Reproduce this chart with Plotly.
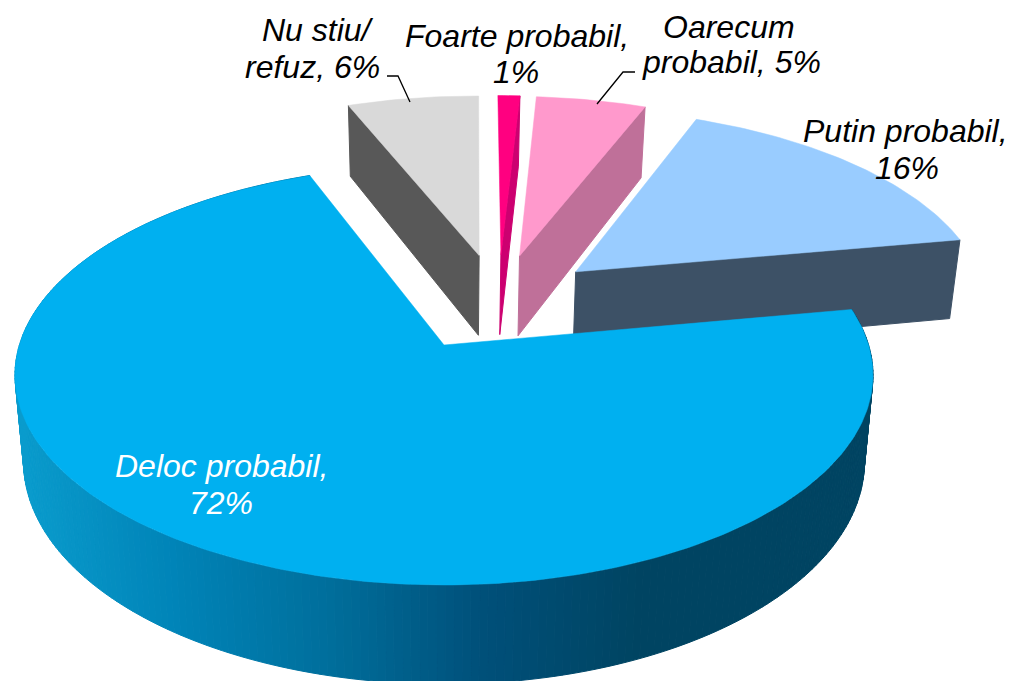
import math
import plotly.graph_objects as go

# ---- data ----
categories = ["Foarte probabil", "Oarecum probabil", "Putin probabil", "Deloc probabil", "Nu stiu/ refuz"]
values = [1, 5, 16, 72, 6]
label_lines = [["Foarte probabil,", "1%"], ["Oarecum", "probabil, 5%"], ["Putin probabil,", "16%"],
               ["Deloc probabil,", "72%"], ["Nu stiu/", "refuz, 6%"]]

# ---- styles ----
top_colors = ["#FF0080", "#FF99CC", "#99CCFF", "#00B0F0", "#D9D9D9"]
side_colors = ["#CC0070", "#BF7099", "#3D5166", None, "#585858"]
gradient = [(15, (10, 156, 205)), (170, (0, 132, 184)), (330, (0, 110, 155)), (480, (0, 80, 122)), (640, (0, 68, 98)), (900, (0, 68, 98))]
label_pos = [[(517, 36), (516, 72)], [(729, 27), (731, 62)], [(905, 131), (907, 168)],
             [(221, 466), (221, 503)], [(318, 30), (312, 67)]]
label_color = ["black", "black", "black", "white", "black"]
FONT_SIZE = 32

# ---- projection of the tilted pie ----
CX, CY, AX, BY, K = 444.0, 345.0, 424.6, 205.7, 1 / 7
H, SHRINK = 85.0, 0.98
START, EXPLODE = 0.6, 0.25
PIE_U, PIE_V = 0.1325, 0.2175
TOTAL = sum(values)


def top(u, v):
    w = 1 + K * v
    return CX + AX * u / w, CY - BY * v / w


def bottom(u, v):
    x, y = top(u, v)
    return CX + (x - CX) * SHRINK, y + H / (1 + K * v)


def poly(fig, pts, color, width=1.0):
    xs = [p[0] for p in pts] + [pts[0][0]]
    ys = [p[1] for p in pts] + [pts[0][1]]
    fig.add_trace(go.Scatter(x=xs, y=ys, mode="lines", fill="toself", fillcolor=color,
                             line=dict(color=color, width=width), hoverinfo="skip", showlegend=False))


def grad_color(x):
    for (x0, c0), (x1, c1) in zip(gradient, gradient[1:]):
        if x <= x1:
            t = max(0, (x - x0) / (x1 - x0))
            return "rgb(%d,%d,%d)" % tuple(round(a + (b - a) * t) for a, b in zip(c0, c1))
    return "rgb(%d,%d,%d)" % gradient[-1][1]


fig = go.Figure()
angle = START
slices = []
for i, val in enumerate(values):
    span = 360 * val / TOTAL
    slices.append((i, angle, angle + span))
    angle += span

# back slices first, the big front slice last
for i, a0, a1 in sorted(slices, key=lambda s: values[s[0]] == max(values)):
    mid = math.radians((a0 + a1) / 2)
    if values[i] == max(values):
        cu, cv = 0.0, 0.0
    else:
        cu = PIE_U + EXPLODE * math.sin(mid)
        cv = PIE_V + EXPLODE * math.cos(mid)
    n = max(4, int((a1 - a0) / 1.0))
    rim = []
    for j in range(n + 1):
        t = math.radians(a0 + (a1 - a0) * j / n)
        rim.append((cu + math.sin(t), cv + math.cos(t)))
    if side_colors[i] is None:
        for j in range(n):
            p, q = rim[j], rim[j + 1]
            pts = [top(*p), top(*q), bottom(*q), bottom(*p)]
            poly(fig, pts, grad_color((pts[0][0] + pts[1][0]) / 2))
    else:
        edge = rim[-1] if (a0 + a1) / 2 < 180 else rim[0]
        poly(fig, [top(cu, cv), top(*edge), bottom(*edge), bottom(cu, cv)], side_colors[i])
    poly(fig, [top(cu, cv)] + [top(*p) for p in rim], top_colors[i], 0.5)

# leader lines
fig.add_trace(go.Scatter(x=[387, 398, 410], y=[76, 76, 102], mode="lines",
                         line=dict(color="black", width=1.3), hoverinfo="skip", showlegend=False))
fig.add_trace(go.Scatter(x=[635, 623, 597], y=[72, 72, 104], mode="lines",
                         line=dict(color="black", width=1.3), hoverinfo="skip", showlegend=False))

for lines, positions, col in zip(label_lines, label_pos, label_color):
    for txt, (x, y) in zip(lines, positions):
        fig.add_annotation(x=x, y=y, text=txt, showarrow=False, xanchor="center", yanchor="middle",
                           align="center",
                           font=dict(family="Liberation Sans", size=FONT_SIZE, color=col, style="italic"))

fig.update_layout(width=1012, height=681, margin=dict(l=0, r=0, t=0, b=0),
                  paper_bgcolor="white", plot_bgcolor="white", showlegend=False,
                  xaxis=dict(range=[0, 1012], visible=False, fixedrange=True),
                  yaxis=dict(range=[681, 0], visible=False, fixedrange=True))
fig.write_html("out.html", config={"displayModeBar": False},
               post_script="document.body.style.margin='0';document.body.style.overflow='hidden';")
